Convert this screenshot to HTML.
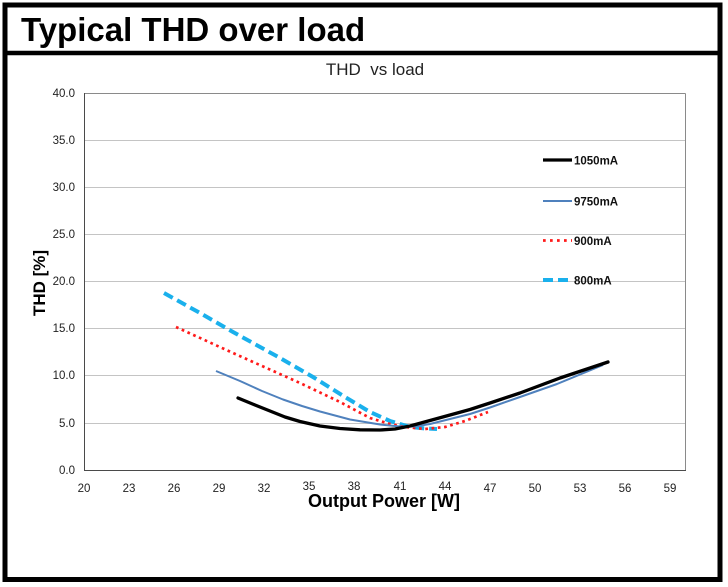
<!DOCTYPE html>
<html><head><meta charset="utf-8"><style>
html,body{margin:0;padding:0;background:#fff;}
svg{display:block;}
text{font-family:"Liberation Sans",Arial,sans-serif;}
</style></head><body>
<svg width="728" height="587" viewBox="0 0 728 587" xmlns="http://www.w3.org/2000/svg">
<rect x="0" y="0" width="728" height="587" fill="#fff"/>
<!-- outer frame -->
<rect x="5" y="5" width="715" height="574.5" fill="none" stroke="#000" stroke-width="5"/>
<line x1="5" y1="53" x2="720" y2="53" stroke="#000" stroke-width="4.5"/>
<text x="21" y="41" font-size="33" font-weight="bold" fill="#000">Typical THD over load</text>

<!-- chart title -->
<text x="375" y="75" font-size="17" text-anchor="middle" fill="#222">THD&#160; vs load</text>

<!-- gridlines -->
<g stroke="#c4c4c4" stroke-width="1">
<line x1="84" y1="140.5" x2="685" y2="140.5"/>
<line x1="84" y1="187.5" x2="685" y2="187.5"/>
<line x1="84" y1="234.5" x2="685" y2="234.5"/>
<line x1="84" y1="281.5" x2="685" y2="281.5"/>
<line x1="84" y1="328.5" x2="685" y2="328.5"/>
<line x1="84" y1="375.5" x2="685" y2="375.5"/>
<line x1="84" y1="423.5" x2="685" y2="423.5"/>
</g>
<!-- plot border -->
<line x1="84" y1="93.5" x2="685.5" y2="93.5" stroke="#8a8a8a" stroke-width="1"/>
<line x1="685.5" y1="93.5" x2="685.5" y2="470.5" stroke="#8a8a8a" stroke-width="1"/>
<line x1="84.5" y1="93" x2="84.5" y2="471" stroke="#4a4a4a" stroke-width="1"/>
<line x1="84" y1="470.5" x2="686" y2="470.5" stroke="#4a4a4a" stroke-width="1"/>

<!-- y tick labels -->
<g font-size="11.5" text-anchor="end" fill="#222">
<text x="75" y="97">40.0</text>
<text x="75" y="144">35.0</text>
<text x="75" y="191">30.0</text>
<text x="75" y="238">25.0</text>
<text x="75" y="285">20.0</text>
<text x="75" y="332">15.0</text>
<text x="75" y="379">10.0</text>
<text x="75" y="427">5.0</text>
<text x="75" y="474">0.0</text>
</g>
<!-- x tick labels -->
<g font-size="11.5" text-anchor="middle" fill="#222">
<text x="84" y="492">20</text>
<text x="129" y="492">23</text>
<text x="174" y="492">26</text>
<text x="219" y="492">29</text>
<text x="264" y="492">32</text>
<text x="309" y="490">35</text>
<text x="354" y="490">38</text>
<text x="400" y="490">41</text>
<text x="445" y="490">44</text>
<text x="490" y="492">47</text>
<text x="535" y="492">50</text>
<text x="580" y="492">53</text>
<text x="625" y="492">56</text>
<text x="670" y="492">59</text>
</g>
<!-- axis titles -->
<text x="384" y="507" font-size="18" font-weight="bold" text-anchor="middle" fill="#000">Output Power [W]</text>
<text transform="translate(45,283) rotate(-90)" font-size="17" font-weight="bold" text-anchor="middle" fill="#000">THD [%]</text>

<!-- series -->
<!-- 800mA cyan dashed -->
<polyline fill="none" stroke="#1ab0ec" stroke-width="4" stroke-dasharray="10 5"
 points="164,293 200,313 233,332 280,358 313,377 345,397 370,412 390,421 410,427 425,428.5 437,429"/>
<!-- 900mA red dotted -->
<polyline fill="none" stroke="#ff1a1a" stroke-width="2.7" stroke-dasharray="2.7 3.6"
 points="176,327 233,353 300,383 340,402 370,418 390,424 405,427 425,429 445,427 465,421 488,412"/>
<!-- 9750mA blue -->
<polyline fill="none" stroke="#4f81bd" stroke-width="2" stroke-linejoin="round"
 points="216,371 240,381 262,391 283,399.5 302,406 320,411.5 350,419.5 380,424.5 400,426.5 415,426.5 430,424 450,419 470,414 490,407.5 520,397 557,384 603,365"/>
<!-- 1050mA black -->
<polyline fill="none" stroke="#000" stroke-width="3.3" stroke-linejoin="round" stroke-linecap="round"
 points="238,398 255,405 270,411 285,417 300,421.5 320,426 340,428.5 360,429.8 380,430 395,429 410,426 430,420.5 450,415 470,409.5 490,403 520,393 560,378 608,362"/>

<!-- legend -->
<line x1="543" y1="160" x2="572" y2="160" stroke="#000" stroke-width="3.3"/>
<line x1="543" y1="201" x2="572" y2="201" stroke="#4f81bd" stroke-width="2"/>
<line x1="543" y1="240.5" x2="572" y2="240.5" stroke="#ff1a1a" stroke-width="2.7" stroke-dasharray="2.7 4.3"/>
<line x1="543" y1="280" x2="572" y2="280" stroke="#1ab0ec" stroke-width="4" stroke-dasharray="10 5"/>
<g font-size="11.5" font-weight="bold" fill="#111">
<text x="574" y="164.5">1050mA</text>
<text x="574" y="205.5">9750mA</text>
<text x="574" y="245">900mA</text>
<text x="574" y="284.5">800mA</text>
</g>
</svg>
</body></html>
